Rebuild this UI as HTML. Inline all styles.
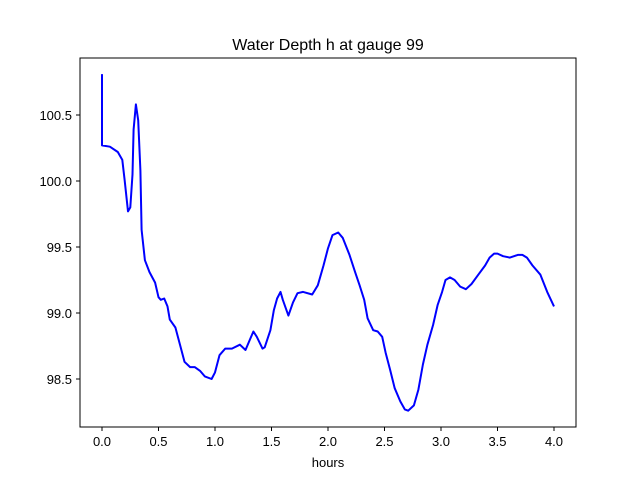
<!DOCTYPE html>
<html><head><meta charset="utf-8"><style>
body{margin:0;background:#fff;}
svg{display:block;font-family:"Liberation Sans","DejaVu Sans",sans-serif;}
</style></head><body>
<svg id="chart" width="640" height="480">
<rect width="640" height="480" fill="#fff"/>
<text x="328" y="50" font-size="16" text-anchor="middle">Water Depth h at gauge 99</text>
<g id="axes"></g>
<path id="line" fill="none" stroke="#0000ff" stroke-width="2" stroke-linejoin="round"/>
<rect x="80" y="58" width="496" height="369" fill="none" stroke="#000" stroke-width="1"/>
<text x="328" y="467" font-size="13" text-anchor="middle">hours</text>
</svg>
<script>
const hours=[0,0,0.07,0.14,0.18,0.20,0.23,0.25,0.27,0.28,0.30,0.32,0.34,0.35,0.38,0.42,0.47,0.50,0.52,0.55,0.58,0.60,0.65,0.69,0.73,0.78,0.82,0.87,0.91,0.97,1.00,1.04,1.09,1.15,1.22,1.27,1.31,1.34,1.37,1.42,1.44,1.49,1.52,1.55,1.58,1.60,1.65,1.69,1.73,1.78,1.86,1.91,1.96,2.00,2.04,2.09,2.13,2.19,2.24,2.28,2.32,2.35,2.40,2.44,2.48,2.51,2.55,2.59,2.64,2.68,2.71,2.76,2.80,2.84,2.88,2.93,2.97,3.01,3.04,3.08,3.12,3.17,3.22,3.27,3.33,3.39,3.43,3.47,3.50,3.55,3.61,3.68,3.72,3.76,3.81,3.88,3.94,4.00];
const depth=[100.81,100.27,100.26,100.22,100.16,100.01,99.77,99.80,100.05,100.39,100.58,100.46,100.08,99.63,99.40,99.31,99.23,99.12,99.10,99.11,99.05,98.95,98.89,98.76,98.63,98.59,98.59,98.56,98.52,98.50,98.55,98.68,98.73,98.73,98.76,98.72,98.80,98.86,98.82,98.73,98.74,98.87,99.02,99.11,99.16,99.10,98.98,99.08,99.15,99.16,99.14,99.21,99.36,99.49,99.59,99.61,99.57,99.44,99.31,99.21,99.10,98.96,98.87,98.86,98.82,98.70,98.57,98.43,98.33,98.27,98.26,98.30,98.42,98.61,98.76,98.91,99.06,99.16,99.25,99.27,99.25,99.20,99.18,99.22,99.29,99.36,99.42,99.45,99.45,99.43,99.42,99.44,99.44,99.42,99.36,99.29,99.16,99.05,98.94];
const xTicks=[0,0.5,1,1.5,2,2.5,3,3.5,4];
const yTicks=[98.5,99,99.5,100,100.5];
const NS="http://www.w3.org/2000/svg";
function xs(h){return 102+h*113;}
function ys(v){return 115+(100.5-v)*132;}
const axes=document.getElementById('axes');
xTicks.forEach(t=>{
  const l=document.createElementNS(NS,'line');
  
  
  l.setAttribute('x1',xs(t));l.setAttribute('x2',xs(t));l.setAttribute('y1',427);l.setAttribute('y2',431);l.setAttribute('stroke','#000');
  axes.appendChild(l);
  const tx=document.createElementNS(NS,'text');
  
  
  tx.setAttribute('x',xs(t));tx.setAttribute('y',446);tx.setAttribute('font-size','13');tx.setAttribute('text-anchor','middle');
  tx.textContent=t.toFixed(1);axes.appendChild(tx);
});
yTicks.forEach(t=>{
  const l=document.createElementNS(NS,'line');
  
  
  l.setAttribute('x1',76);l.setAttribute('x2',80);l.setAttribute('y1',ys(t));l.setAttribute('y2',ys(t));l.setAttribute('stroke','#000');
  axes.appendChild(l);
  const tx=document.createElementNS(NS,'text');
  
  
  tx.setAttribute('x',72);tx.setAttribute('y',ys(t)+5);tx.setAttribute('font-size','13');tx.setAttribute('text-anchor','end');
  tx.textContent=t.toFixed(1);axes.appendChild(tx);
});
let d='';
hours.forEach((h,i)=>{d+=(i?'L':'M')+xs(h).toFixed(1)+','+ys(depth[i]).toFixed(1);});
document.getElementById('line').setAttribute('d',d);
</script>
</body></html>
